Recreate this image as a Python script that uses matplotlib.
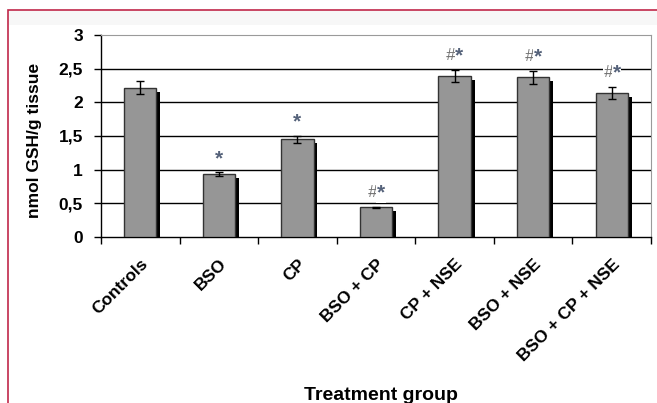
import matplotlib
matplotlib.use("Agg")
import matplotlib.pyplot as plt
from matplotlib.patches import Rectangle
import numpy as np

plt.rcParams['font.family'] = ['Liberation Sans', 'DejaVu Sans']

categories = ["Controls", "BSO", "CP", "BSO + CP", "CP + NSE", "BSO + NSE", "BSO + CP + NSE"]
values = [2.22, 0.93, 1.45, 0.44, 2.39, 2.37, 2.14]
errors = [0.09, 0.03, 0.055, 0.01, 0.095, 0.095, 0.095]
marks = ["", "*", "*", "#*", "#*", "#*", "#*"]
yticks = [0, 0.5, 1, 1.5, 2, 2.5, 3]
yticklabels = ["0", "0,5", "1", "1,5", "2", "2,5", "3"]

fig = plt.figure(figsize=(6.57, 4.03), dpi=100)
fig.patch.set_facecolor('white')

# light band and red frame
fig.add_artist(Rectangle((8/657, 1-25/403), 1, 15/403, transform=fig.transFigure,
                         facecolor='#f7f7f7', edgecolor='none', zorder=0))
fig.add_artist(Rectangle((8/657, -0.1), 1.2, 1.1 - 10/403, transform=fig.transFigure,
                         facecolor='none', edgecolor='#c0284a', linewidth=1.2, zorder=5))

ax = fig.add_axes([101/657, 1-237/403, 550/657, 202/403])
x = np.arange(len(categories))
w = 0.41
# shadows
ax.bar(x + 0.05, np.array(values) - 0.06, width=w, color='black', zorder=2)
ax.bar(x, values, width=w, color='#969696', edgecolor='#333333', linewidth=1.0, zorder=3)
ax.errorbar(x, values, yerr=errors, fmt='none', ecolor='black', elinewidth=1.0,
            capsize=3, capthick=1.0, zorder=4)

for yv in [0.5, 1, 1.5, 2, 2.5]:
    ax.axhline(yv, color='black', linewidth=1.0, zorder=1)

ax.set_xlim(-0.5, len(categories) - 0.5)
ax.set_ylim(0, 3)
ax.set_yticks(yticks)
ax.set_yticklabels(yticklabels, fontsize=12.5, fontweight='bold')
ax.tick_params(axis='y', length=5, width=1, pad=8, direction='out')

ax.set_xticks(x)
ax.set_xticklabels(categories, rotation=45, ha='right', rotation_mode='anchor',
                   fontsize=12.5, fontweight='bold')
ax.tick_params(axis='x', which='major', length=0, pad=14)
ax.set_xticks(np.arange(len(categories) + 1) - 0.5, minor=True)
ax.tick_params(axis='x', which='minor', length=5, width=1, direction='out')

for s in ['top', 'right']:
    ax.spines[s].set_color('#9a9a9a')
for s in ['left', 'bottom']:
    ax.spines[s].set_color('black')
    ax.spines[s].set_linewidth(1.0)

for xi, v, e, m in zip(x, values, errors, marks):
    if not m:
        continue
    if m == "*":
        ax.annotate("*", (xi, v + e), xytext=(0, 3), textcoords='offset points',
                    ha='center', va='bottom', fontsize=15, fontweight='bold',
                    color='#55627a', zorder=6)
    else:
        ax.annotate("#", (xi + 0.01, v + e), xytext=(0, 5), textcoords='offset points',
                    ha='right', va='bottom', fontsize=12, style='italic', color='#707070',
                    zorder=6, bbox=dict(facecolor='white', edgecolor='none', pad=0.5))
        ax.annotate("*", (xi + 0.01, v + e), xytext=(0, 3), textcoords='offset points',
                    ha='left', va='bottom', fontsize=15, fontweight='bold',
                    color='#55627a', zorder=6,
                    bbox=dict(facecolor='white', edgecolor='none', pad=0.5))

fig.text(35/657, 1-140/403, "nmol GSH/g tissue", rotation=90, ha='center', va='center',
         fontsize=12.5, fontweight='bold')
fig.text(381/657, 1-395/403, "Treatment group", ha='center', va='center',
         fontsize=14, fontweight='bold')

fig.savefig("out.png", dpi=100)
